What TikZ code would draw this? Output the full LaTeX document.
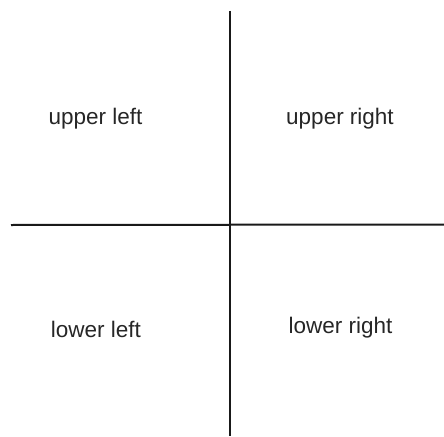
\documentclass[tikz,border=0pt]{standalone}
\usepackage{fontspec}
\setmainfont{Liberation Sans}
\begin{document}
\begin{tikzpicture}[x=1pt,y=-1pt,
  axis/.style={line width=2pt,color=black!90},
  lbl/.style={anchor=base,inner sep=0pt,font=\fontsize{22.5}{26}\selectfont,text=black!85}]
\useasboundingbox (0,0) rectangle (444,436);
\coordinate (hl) at (11,225);
\coordinate (hr) at (444,224.5);
\coordinate (vt) at (229.5,11);
\coordinate (vb) at (229.5,436);
\draw[axis] (hl) -- (hr);
\draw[axis] (vt) -- (vb);
\node[lbl] (ul) at (95.5,124) {upper left};
\node[lbl] (ur) at (340,124) {upper right};
\node[lbl] (ll) at (96,337) {lower left};
\node[lbl] (lr) at (340.5,333) {lower right};
\end{tikzpicture}
\end{document}
